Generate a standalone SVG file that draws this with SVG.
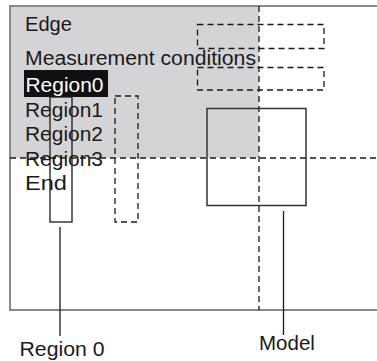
<svg xmlns="http://www.w3.org/2000/svg" width="377" height="361" viewBox="0 0 377 361">
<style>
text{font-family:"Liberation Sans",Arial,sans-serif;font-size:20px;fill:#1a1a1a}
.lbl{font-size:20.5px}
.dash{fill:none;stroke:#1a1a1a;stroke-width:1.3;stroke-dasharray:6 4}
.solid{fill:none;stroke:#1a1a1a;stroke-width:1.3}
.frame{fill:none;stroke:#8a8a8a;stroke-width:2}
</style>
<rect width="377" height="361" fill="#fff"/>
<g id="screen">
<rect x="10" y="6" width="249" height="152" fill="#d4d4d6"/>
<path class="frame" d="M377 6H10V310H377"/>
</g>
<g id="menu">
<text x="25" y="30.5" textLength="47" lengthAdjust="spacingAndGlyphs">Edge</text>
<text x="25" y="64.5" textLength="231" lengthAdjust="spacingAndGlyphs">Measurement conditions</text>
<rect x="24" y="70" width="84" height="27" fill="#111"/>
<text x="25.5" y="92" textLength="78" lengthAdjust="spacingAndGlyphs" style="fill:#fff">Region0</text>
<text x="25" y="116.5" textLength="78" lengthAdjust="spacingAndGlyphs">Region1</text>
<text x="25" y="140.5" textLength="78" lengthAdjust="spacingAndGlyphs">Region2</text>
<text x="25" y="165.5" textLength="78" lengthAdjust="spacingAndGlyphs">Region3</text>
<text x="25" y="189.5" textLength="42" lengthAdjust="spacingAndGlyphs">End</text>
</g>
<g id="guides">
<line class="dash" x1="259" y1="6" x2="259" y2="310"/>
<line class="dash" x1="10" y1="158" x2="377" y2="158"/>
</g>
<g id="region0-box"><rect class="solid" x="50" y="97" width="22" height="125"/></g>
<g id="region-dashed"><rect class="dash" x="115" y="96" width="23" height="126"/></g>
<g id="dashed-top1"><rect class="dash" x="197.5" y="24.5" width="126.5" height="24"/></g>
<g id="dashed-top2"><rect class="dash" x="197.5" y="67.5" width="126.5" height="22.5"/></g>
<g id="model-box"><rect x="207" y="108.5" width="99" height="97" fill="none" stroke="#333" stroke-width="1.5"/></g>
<g id="connectors">
<line class="solid" x1="60" y1="227" x2="60" y2="336"/>
<line class="solid" x1="283.5" y1="211" x2="283.5" y2="335"/>
</g>
<g id="labels">
<text class="lbl" x="19.5" y="356" textLength="85" lengthAdjust="spacingAndGlyphs">Region 0</text>
<text class="lbl" x="259" y="349.5">Model</text>
</g>
</svg>
